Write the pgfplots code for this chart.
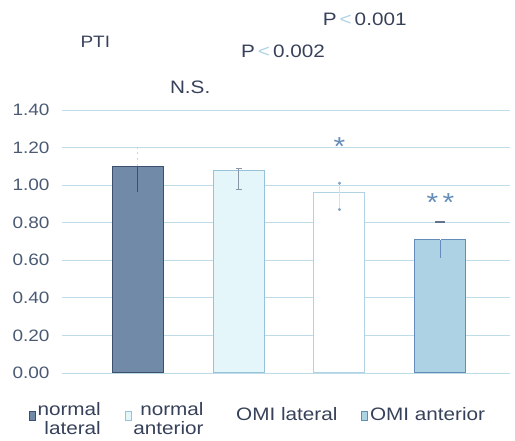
\documentclass[border=0pt]{standalone}
\usepackage{fontspec}
\setmainfont[FakeStretch=1.15]{Liberation Sans}
\usepackage{pgfplots}
\pgfplotsset{compat=1.18}
\definecolor{txt}{RGB}{55,65,90}
\definecolor{tick}{RGB}{75,90,115}
\definecolor{grd}{RGB}{190,220,232}
\definecolor{cA}{RGB}{112,138,168}
\definecolor{eA}{RGB}{60,80,110}
\definecolor{cB}{RGB}{228,246,250}
\definecolor{eB}{RGB}{150,195,218}
\definecolor{cC}{RGB}{255,255,255}
\definecolor{eC}{RGB}{175,210,228}
\definecolor{cD}{RGB}{172,210,228}
\definecolor{eD}{RGB}{100,140,185}
\newcommand{\two}[2]{\begin{tabular}{@{}r@{}}#1\\#2\end{tabular}}
\begin{document}
\begin{tikzpicture}
\path[use as bounding box] (0pt,0pt) rectangle (515pt,441pt);
\begin{axis}[
  at={(62pt,68pt)}, anchor=south west,
  scale only axis, width=448pt, height=263pt,
  xmin=-0.75, xmax=3.69, ymin=0, ymax=1.4,
  axis line style={draw=none},
  ytick={0,0.2,...,1.4},
  tick label style={font=\fontsize{16.5}{16.5}\selectfont, text=tick},
  yticklabel style={xshift=-9pt, /pgf/number format/.cd, fixed, fixed zerofill, precision=2, assume math mode=true},
  xtick=\empty,
  major tick length=0pt,
  ymajorgrids, grid style={draw=grd, line width=0.8pt},
  clip=false,
  bar width=51pt, bar shift=0pt,
  legend columns=4,
  legend style={draw=none, fill=none, at={(0.4375,-0.16)}, anchor=center,
    font=\fontsize{18}{19}\selectfont, text=txt,
    /tikz/every even column/.append style={column sep=22pt}},
  legend cell align=left,
  legend image code/.code={\draw[#1,line width=0.6pt] (0pt,-5pt) rectangle (6pt,4pt);},
]
% bars
\addplot[ybar, fill=cA, draw=eA, line width=1pt, forget plot] coordinates {(0,1.10)};
\addplot[ybar, fill=cB, draw=eB, line width=1pt, forget plot] coordinates {(1,1.08)};
\addplot[ybar, fill=cC, draw=eC, line width=1pt, forget plot] coordinates {(2,0.96)};
\addplot[ybar, fill=cD, draw=eD, line width=1pt, forget plot] coordinates {(3,0.71)};
% error bars (downward, visible)
\addplot[draw=none, mark=none, forget plot,
  error bars/.cd, y dir=minus, y explicit, error mark=none,
  error bar style={eA, line width=1.2pt}]
  coordinates {(0,1.10) +- (0,0.135)};
\addplot[draw=none, mark=none, forget plot,
  error bars/.cd, y dir=minus, y explicit,
  error bar style={eA!60, line width=0.8pt},
  error mark options={rotate=90, mark size=3pt, eA!60}]
  coordinates {(1,1.08) +- (0,0.10)};
\addplot[draw=none, mark=none, forget plot,
  error bars/.cd, y dir=both, y explicit, error mark=*,
  error bar style={eC!60, line width=0.6pt},
  error mark options={mark size=1.3pt, eD!80, fill=eD!80}]
  coordinates {(2,0.94) +- (0,0.07)};
\addplot[draw=none, mark=none, forget plot,
  error bars/.cd, y dir=minus, y explicit, error mark=none,
  error bar style={eD, line width=1.3pt}]
  coordinates {(3,0.71) +- (0,0.10)};
% error bars (upward, faint)
\addplot[draw=none, mark=none, forget plot,
  error bars/.cd, y dir=plus, y explicit, error mark=none,
  error bar style={grd, line width=0.8pt, dash pattern=on 2pt off 4pt}]
  coordinates {(0,1.10) +- (0,0.10)};
\addplot[draw=none, mark=none, forget plot,
  error bars/.cd, y dir=plus, y explicit,
  error bar style={eA!60, line width=0.8pt},
  error mark options={rotate=90, mark size=3pt, eA!60}]
  coordinates {(1,1.08) +- (0,0.01)};
\addplot[draw=none, mark=none, forget plot,
  error bars/.cd, y dir=plus, y explicit,
  error bar style={white, line width=0.1pt},
  error mark options={rotate=90, mark size=5pt, line width=2pt, eA!80}]
  coordinates {(3,0.71) +- (0,0.093)};
\addlegendimage{fill=cA, draw=eA}
\addlegendentry{\two{normal}{lateral}}
\addlegendimage{fill=cB, draw=eB}
\addlegendentry{\two{normal}{anterior}}
\addlegendimage{fill=white, draw=white}
\addlegendentry{OMI lateral}
\addlegendimage{fill=cD, draw=eD}
\addlegendentry{OMI anterior}
\node[text=txt, font=\fontsize{16.5}{16.5}\selectfont] at (axis cs:-0.42,1.765) {PTI};
\node[text=txt, font=\fontsize{18}{18}\selectfont] at (axis cs:0.52,1.52) {N.S.};
\node[text=txt, font=\fontsize{18}{18}\selectfont] at (axis cs:1.44,1.71) {P\,{\color{eC}<}\,0.002};
\node[text=txt, font=\fontsize{18}{18}\selectfont] at (axis cs:2.25,1.885) {P\,{\color{eC}<}\,0.001};
\node[text=eD, font=\fontsize{26}{26}\selectfont] at (axis cs:2.0,1.205) {*};
\node[text=eD, font=\fontsize{26}{26}\selectfont] at (axis cs:3.0,0.905) {*\,*};
\end{axis}
\end{tikzpicture}
\end{document}
